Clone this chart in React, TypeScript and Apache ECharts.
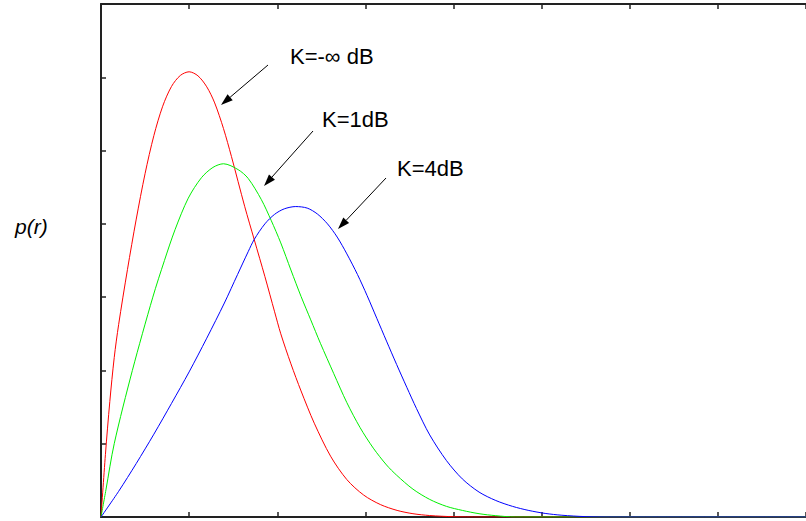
import React, { useEffect, useRef } from "react";
import * as echarts from "echarts";

// [r, p(r)]
const redData: [number, number][] = [
  [0, 0], [0.05, 0.085], [0.1, 0.1575], [0.15, 0.2175], [0.2, 0.2625], [0.3, 0.3375],
  [0.4, 0.4065], [0.5, 0.4685], [0.6, 0.5205], [0.7, 0.5605], [0.8, 0.5875], [0.9, 0.6025],
  [1.0, 0.6075], [1.1, 0.602], [1.2, 0.587], [1.29, 0.565], [1.39, 0.53], [1.48, 0.492],
  [1.63, 0.424], [1.74, 0.378], [1.86, 0.328], [1.97, 0.28], [2.04, 0.25], [2.155, 0.209],
  [2.27, 0.172], [2.42, 0.128], [2.605, 0.083], [2.79, 0.051], [2.98, 0.03], [3.17, 0.017],
  [3.36, 0.009], [3.54, 0.0045], [3.73, 0.002], [4.0, 0.0004], [4.3, 0], [8, 0],
];

const greenData: [number, number][] = [
  [0, 0], [0.056, 0.037], [0.15, 0.1], [0.356, 0.2], [0.588, 0.3], [0.72, 0.35], [0.84, 0.392],
  [0.99, 0.435], [1.14, 0.463], [1.27, 0.477], [1.39, 0.482], [1.556, 0.474], [1.67, 0.462],
  [1.82, 0.433], [1.93, 0.405], [2.04, 0.374], [2.155, 0.337], [2.27, 0.301], [2.38, 0.269],
  [2.49, 0.237], [2.64, 0.196], [2.79, 0.156], [2.94, 0.122], [3.09, 0.094], [3.24, 0.071],
  [3.355, 0.057], [3.54, 0.038], [3.73, 0.024], [3.92, 0.0145], [4.1, 0.009], [4.29, 0.0045],
  [4.48, 0.0018], [4.7, 0], [8, 0],
];

const blueData: [number, number][] = [
  [0, 0], [0.2, 0.035], [0.4, 0.073], [0.6, 0.113], [0.8, 0.155], [1.0, 0.198], [1.2, 0.244],
  [1.4, 0.292], [1.55, 0.331], [1.67, 0.362], [1.74, 0.379], [1.86, 0.4], [1.97, 0.413],
  [2.08, 0.4205], [2.21, 0.4236], [2.34, 0.4215], [2.455, 0.4135], [2.57, 0.4], [2.68, 0.382],
  [2.79, 0.359], [2.91, 0.331], [3.02, 0.302], [3.13, 0.271], [3.24, 0.24], [3.355, 0.208],
  [3.47, 0.177], [3.58, 0.148], [3.73, 0.112], [3.92, 0.077], [4.1, 0.052], [4.29, 0.034],
  [4.48, 0.0225], [4.67, 0.0145], [4.855, 0.0089], [5.04, 0.0049], [5.23, 0.0024],
  [5.5, 0.0005], [5.8, 0], [8, 0],
];

const seriesNames = ["K=-∞ dB", "K=1dB", "K=4dB"];
const seriesColors = ["#ff0000", "#00f000", "#0000ff"];
const yAxisTitle = "p(r)";

const FONT = '"Liberation Sans", Arial, Helvetica, sans-serif';

function arrow(x1: number, y1: number, x2: number, y2: number) {
  const dx = x2 - x1;
  const dy = y2 - y1;
  const L = Math.hypot(dx, dy);
  const ux = dx / L;
  const uy = dy / L;
  const hl = 12;
  const hw = 4;
  const bx = x2 - ux * hl;
  const by = y2 - uy * hl;
  return [
    { type: "line", shape: { x1, y1, x2: bx, y2: by }, style: { stroke: "#000", lineWidth: 1 } },
    {
      type: "polygon",
      shape: { points: [[x2, y2], [bx - uy * hw, by + ux * hw], [bx + uy * hw, by - ux * hw]] },
      style: { fill: "#000" },
    },
  ];
}

function label(text: string, x: number, y: number, size: number, italic = false) {
  return {
    type: "text",
    x,
    y,
    style: {
      text,
      fill: "#000",
      fontSize: size,
      fontFamily: FONT,
      fontStyle: italic ? "italic" : "normal",
      align: "left",
      verticalAlign: "middle",
    },
  };
}

export default function App() {
  const ref = useRef<HTMLDivElement>(null);
  useEffect(() => {
    const chart = echarts.init(ref.current!, null, { renderer: "svg" });
    const axisLine = { show: true, lineStyle: { color: "#222", width: 2 } };
    const axisTick = { show: true, inside: true, length: 5, lineStyle: { color: "#222", width: 1.5 } };
    const data = [redData, greenData, blueData];
    chart.setOption({
      animation: false,
      backgroundColor: "#fff",
      grid: { left: 101, top: 4, bottom: 4, right: -7, containLabel: false },
      xAxis: [
        {
          type: "value", min: 0, max: 8, interval: 1, position: "bottom",
          axisLine, axisTick, axisLabel: { show: false }, splitLine: { show: false },
        },
        {
          type: "value", min: 0, max: 8, interval: 1, position: "top",
          axisLine, axisTick, axisLabel: { show: false }, splitLine: { show: false },
        },
      ],
      yAxis: {
        type: "value", min: 0, max: 0.7, interval: 0.1,
        axisLine, axisTick, axisLabel: { show: false }, splitLine: { show: false },
      },
      series: data.map((d, i) => ({
        name: seriesNames[i],
        type: "line",
        data: d,
        xAxisIndex: 0,
        showSymbol: false,
        symbol: "none",
        smooth: 0.3,
        lineStyle: { color: seriesColors[i], width: 1 },
        itemStyle: { color: seriesColors[i] },
        z: 3 + i,
      })),
      graphic: [
        label(yAxisTitle, 15, 226, 21, true),
        label(seriesNames[0], 290, 56, 22),
        label(seriesNames[1], 322, 119, 22),
        label(seriesNames[2], 397, 168, 22),
        ...arrow(268, 65, 221, 105),
        ...arrow(313, 131, 264, 186),
        ...arrow(386, 178, 338, 229),
      ],
    });
    return () => chart.dispose();
  }, []);
  return (
    <div
      ref={ref}
      style={{ position: "absolute", left: 0, top: 0, width: 806, height: 521, background: "#fff" }}
    />
  );
}
